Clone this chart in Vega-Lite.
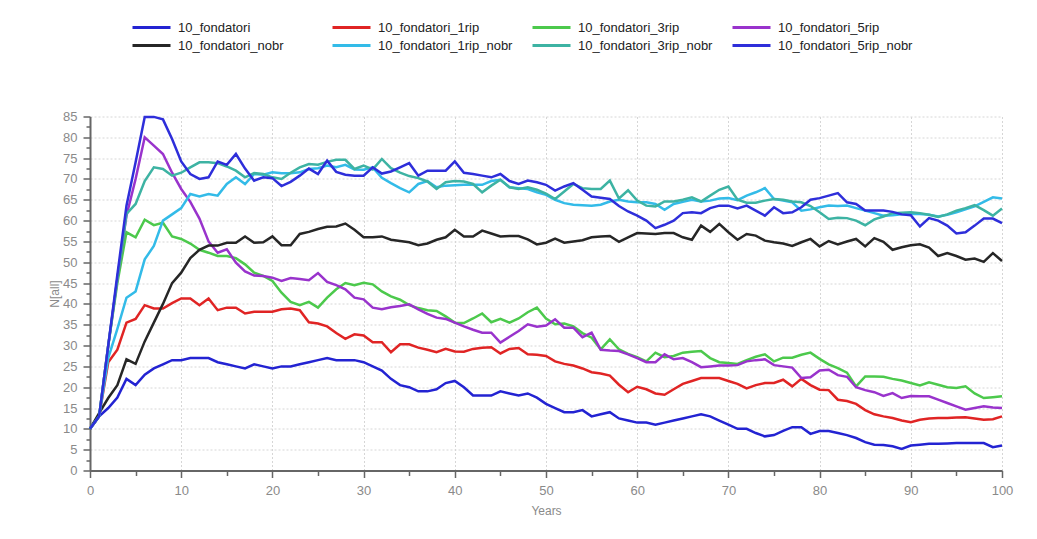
{
  "$schema": "https://vega.github.io/schema/vega-lite/v6.json",
  "width": 912,
  "height": 354,
  "autosize": {"type": "none"},
  "padding": {"left": 90, "top": 116.5, "right": 35, "bottom": 68.5},
  "background": "white",
  "datasets": {
    "f": [{"year":0,"n":10},{"year":1,"n":13},{"year":2,"n":15},{"year":3,"n":17.5},{"year":4,"n":22},{"year":5,"n":20.5},{"year":6,"n":23},{"year":7,"n":24.5},{"year":8,"n":25.5},{"year":9,"n":26.5},{"year":10,"n":26.5},{"year":11,"n":27},{"year":12,"n":27},{"year":13,"n":27},{"year":14,"n":26},{"year":15,"n":25.5},{"year":16,"n":25},{"year":17,"n":24.5},{"year":18,"n":25.5},{"year":19,"n":25},{"year":20,"n":24.5},{"year":21,"n":25},{"year":22,"n":25},{"year":23,"n":25.5},{"year":24,"n":26},{"year":25,"n":26.5},{"year":26,"n":27},{"year":27,"n":26.5},{"year":28,"n":26.5},{"year":29,"n":26.5},{"year":30,"n":26},{"year":31,"n":25},{"year":32,"n":24},{"year":33,"n":22},{"year":34,"n":20.5},{"year":35,"n":20},{"year":36,"n":19},{"year":37,"n":19},{"year":38,"n":19.5},{"year":39,"n":21},{"year":40,"n":21.5},{"year":41,"n":20},{"year":42,"n":18},{"year":43,"n":18},{"year":44,"n":18},{"year":45,"n":19},{"year":46,"n":18.5},{"year":47,"n":18},{"year":48,"n":18.5},{"year":49,"n":17.5},{"year":50,"n":16},{"year":51,"n":15},{"year":52,"n":14},{"year":53,"n":14},{"year":54,"n":14.5},{"year":55,"n":13},{"year":56,"n":13.5},{"year":57,"n":14},{"year":58,"n":12.5},{"year":59,"n":12},{"year":60,"n":11.5},{"year":61,"n":11.5},{"year":62,"n":11},{"year":63,"n":11.5},{"year":64,"n":12},{"year":65,"n":12.5},{"year":66,"n":13},{"year":67,"n":13.5},{"year":68,"n":13},{"year":69,"n":12},{"year":70,"n":11},{"year":71,"n":10},{"year":72,"n":10},{"year":73,"n":9},{"year":74,"n":8.2},{"year":75,"n":8.5},{"year":76,"n":9.5},{"year":77,"n":10.4},{"year":78,"n":10.4},{"year":79,"n":8.8},{"year":80,"n":9.5},{"year":81,"n":9.5},{"year":82,"n":9},{"year":83,"n":8.5},{"year":84,"n":7.8},{"year":85,"n":6.8},{"year":86,"n":6.2},{"year":87,"n":6.1},{"year":88,"n":5.8},{"year":89,"n":5.2},{"year":90,"n":6},{"year":91,"n":6.2},{"year":92,"n":6.4},{"year":93,"n":6.4},{"year":94,"n":6.5},{"year":95,"n":6.6},{"year":96,"n":6.6},{"year":97,"n":6.6},{"year":98,"n":6.6},{"year":99,"n":5.6},{"year":100,"n":6}],
    "r1": [{"year":0,"n":10},{"year":1,"n":13},{"year":2,"n":26},{"year":3,"n":29},{"year":4,"n":35.5},{"year":5,"n":36.4},{"year":6,"n":39.7},{"year":7,"n":38.9},{"year":8,"n":38.9},{"year":9,"n":40.2},{"year":10,"n":41.3},{"year":11,"n":41.3},{"year":12,"n":39.7},{"year":13,"n":41.3},{"year":14,"n":38.5},{"year":15,"n":39.1},{"year":16,"n":39.1},{"year":17,"n":37.7},{"year":18,"n":38.1},{"year":19,"n":38.1},{"year":20,"n":38.1},{"year":21,"n":38.7},{"year":22,"n":38.9},{"year":23,"n":38.5},{"year":24,"n":35.6},{"year":25,"n":35.3},{"year":26,"n":34.6},{"year":27,"n":33},{"year":28,"n":31.6},{"year":29,"n":32.7},{"year":30,"n":32.4},{"year":31,"n":30.8},{"year":32,"n":30.8},{"year":33,"n":28.4},{"year":34,"n":30.3},{"year":35,"n":30.3},{"year":36,"n":29.5},{"year":37,"n":29},{"year":38,"n":28.4},{"year":39,"n":29.2},{"year":40,"n":28.6},{"year":41,"n":28.5},{"year":42,"n":29.2},{"year":43,"n":29.5},{"year":44,"n":29.6},{"year":45,"n":28.1},{"year":46,"n":29.2},{"year":47,"n":29.4},{"year":48,"n":27.9},{"year":49,"n":27.8},{"year":50,"n":27.5},{"year":51,"n":26.2},{"year":52,"n":25.6},{"year":53,"n":25.2},{"year":54,"n":24.5},{"year":55,"n":23.6},{"year":56,"n":23.3},{"year":57,"n":22.8},{"year":58,"n":20.6},{"year":59,"n":18.8},{"year":60,"n":20.1},{"year":61,"n":19.5},{"year":62,"n":18.5},{"year":63,"n":18.2},{"year":64,"n":19.5},{"year":65,"n":20.8},{"year":66,"n":21.5},{"year":67,"n":22.2},{"year":68,"n":22.2},{"year":69,"n":22.2},{"year":70,"n":21.5},{"year":71,"n":20.8},{"year":72,"n":19.7},{"year":73,"n":20.5},{"year":74,"n":21},{"year":75,"n":21},{"year":76,"n":21.8},{"year":77,"n":20.2},{"year":78,"n":22},{"year":79,"n":20.5},{"year":80,"n":19.4},{"year":81,"n":19.3},{"year":82,"n":17},{"year":83,"n":16.7},{"year":84,"n":16},{"year":85,"n":14.5},{"year":86,"n":13.5},{"year":87,"n":13},{"year":88,"n":12.6},{"year":89,"n":12},{"year":90,"n":11.6},{"year":91,"n":12.2},{"year":92,"n":12.5},{"year":93,"n":12.6},{"year":94,"n":12.6},{"year":95,"n":12.7},{"year":96,"n":12.8},{"year":97,"n":12.5},{"year":98,"n":12.2},{"year":99,"n":12.3},{"year":100,"n":13}],
    "r3": [{"year":0,"n":10},{"year":1,"n":13},{"year":2,"n":30},{"year":3,"n":45},{"year":4,"n":57.2},{"year":5,"n":56},{"year":6,"n":60.2},{"year":7,"n":58.9},{"year":8,"n":59.5},{"year":9,"n":56.2},{"year":10,"n":55.6},{"year":11,"n":54.5},{"year":12,"n":53},{"year":13,"n":52.3},{"year":14,"n":51.5},{"year":15,"n":51.5},{"year":16,"n":51},{"year":17,"n":49.5},{"year":18,"n":47.5},{"year":19,"n":46.7},{"year":20,"n":45.5},{"year":21,"n":42.7},{"year":22,"n":40.5},{"year":23,"n":39.7},{"year":24,"n":40.5},{"year":25,"n":39.1},{"year":26,"n":41.5},{"year":27,"n":43.5},{"year":28,"n":45},{"year":29,"n":44.5},{"year":30,"n":45.1},{"year":31,"n":44.7},{"year":32,"n":43},{"year":33,"n":41.8},{"year":34,"n":41},{"year":35,"n":39.7},{"year":36,"n":39},{"year":37,"n":38.5},{"year":38,"n":38.3},{"year":39,"n":37},{"year":40,"n":35.5},{"year":41,"n":35.4},{"year":42,"n":36.5},{"year":43,"n":37.7},{"year":44,"n":35.6},{"year":45,"n":36.4},{"year":46,"n":35.5},{"year":47,"n":36.5},{"year":48,"n":38},{"year":49,"n":39.1},{"year":50,"n":36.5},{"year":51,"n":35.1},{"year":52,"n":35.3},{"year":53,"n":34.6},{"year":54,"n":33},{"year":55,"n":31.9},{"year":56,"n":29.1},{"year":57,"n":31.5},{"year":58,"n":29.1},{"year":59,"n":28},{"year":60,"n":27.2},{"year":61,"n":26.2},{"year":62,"n":28.3},{"year":63,"n":27.2},{"year":64,"n":27.5},{"year":65,"n":28.3},{"year":66,"n":28.5},{"year":67,"n":28.7},{"year":68,"n":27},{"year":69,"n":26},{"year":70,"n":25.8},{"year":71,"n":25.6},{"year":72,"n":26.5},{"year":73,"n":27.3},{"year":74,"n":27.9},{"year":75,"n":26.2},{"year":76,"n":27.1},{"year":77,"n":27.1},{"year":78,"n":27.8},{"year":79,"n":28.3},{"year":80,"n":26.8},{"year":81,"n":25.5},{"year":82,"n":24.6},{"year":83,"n":23.5},{"year":84,"n":20.2},{"year":85,"n":22.6},{"year":86,"n":22.6},{"year":87,"n":22.5},{"year":88,"n":22},{"year":89,"n":21.6},{"year":90,"n":21},{"year":91,"n":20.4},{"year":92,"n":21.2},{"year":93,"n":20.6},{"year":94,"n":20},{"year":95,"n":19.8},{"year":96,"n":20.2},{"year":97,"n":18.5},{"year":98,"n":17.4},{"year":99,"n":17.6},{"year":100,"n":17.8}],
    "r5": [{"year":0,"n":10},{"year":1,"n":13},{"year":2,"n":30},{"year":3,"n":46},{"year":4,"n":61.2},{"year":5,"n":70},{"year":6,"n":80},{"year":7,"n":78},{"year":8,"n":76},{"year":9,"n":71.5},{"year":10,"n":67.6},{"year":11,"n":64.5},{"year":12,"n":60.5},{"year":13,"n":55},{"year":14,"n":52.3},{"year":15,"n":53.1},{"year":16,"n":49.9},{"year":17,"n":47.8},{"year":18,"n":46.8},{"year":19,"n":46.7},{"year":20,"n":46.3},{"year":21,"n":45.5},{"year":22,"n":46.2},{"year":23,"n":46},{"year":24,"n":45.7},{"year":25,"n":47.4},{"year":26,"n":45.3},{"year":27,"n":44.5},{"year":28,"n":43.5},{"year":29,"n":41.5},{"year":30,"n":41.1},{"year":31,"n":39.1},{"year":32,"n":38.7},{"year":33,"n":39.2},{"year":34,"n":39.5},{"year":35,"n":39.9},{"year":36,"n":38.7},{"year":37,"n":37.6},{"year":38,"n":36.7},{"year":39,"n":36.4},{"year":40,"n":35.5},{"year":41,"n":34.6},{"year":42,"n":33.8},{"year":43,"n":33.1},{"year":44,"n":33.1},{"year":45,"n":30.7},{"year":46,"n":32.1},{"year":47,"n":33.5},{"year":48,"n":35.1},{"year":49,"n":34.5},{"year":50,"n":34.8},{"year":51,"n":36.3},{"year":52,"n":34.3},{"year":53,"n":34.3},{"year":54,"n":32},{"year":55,"n":33.1},{"year":56,"n":29},{"year":57,"n":28.8},{"year":58,"n":28.7},{"year":59,"n":27.9},{"year":60,"n":27},{"year":61,"n":26},{"year":62,"n":26},{"year":63,"n":27.9},{"year":64,"n":26.7},{"year":65,"n":27},{"year":66,"n":26},{"year":67,"n":24.8},{"year":68,"n":25},{"year":69,"n":25.2},{"year":70,"n":25.2},{"year":71,"n":25.3},{"year":72,"n":26.2},{"year":73,"n":26.5},{"year":74,"n":26.7},{"year":75,"n":25.3},{"year":76,"n":25},{"year":77,"n":24.7},{"year":78,"n":22.2},{"year":79,"n":22.4},{"year":80,"n":24},{"year":81,"n":24.2},{"year":82,"n":22.9},{"year":83,"n":22.5},{"year":84,"n":20},{"year":85,"n":19.3},{"year":86,"n":18.8},{"year":87,"n":17.9},{"year":88,"n":18.6},{"year":89,"n":17.4},{"year":90,"n":17.9},{"year":91,"n":17.8},{"year":92,"n":17.8},{"year":93,"n":17},{"year":94,"n":16.2},{"year":95,"n":15.4},{"year":96,"n":14.6},{"year":97,"n":15},{"year":98,"n":15.4},{"year":99,"n":15.1},{"year":100,"n":15}],
    "nb": [{"year":0,"n":10},{"year":1,"n":13.8},{"year":2,"n":17.4},{"year":3,"n":20.5},{"year":4,"n":26.7},{"year":5,"n":25.6},{"year":6,"n":31},{"year":7,"n":35.5},{"year":8,"n":40},{"year":9,"n":45},{"year":10,"n":47.5},{"year":11,"n":51},{"year":12,"n":53},{"year":13,"n":54},{"year":14,"n":54},{"year":15,"n":54.7},{"year":16,"n":54.7},{"year":17,"n":56.2},{"year":18,"n":54.7},{"year":19,"n":54.8},{"year":20,"n":56.2},{"year":21,"n":54.1},{"year":22,"n":54.1},{"year":23,"n":56.8},{"year":24,"n":57.3},{"year":25,"n":58},{"year":26,"n":58.5},{"year":27,"n":58.6},{"year":28,"n":59.3},{"year":29,"n":57.8},{"year":30,"n":56},{"year":31,"n":56},{"year":32,"n":56.2},{"year":33,"n":55.4},{"year":34,"n":55.1},{"year":35,"n":54.8},{"year":36,"n":54.1},{"year":37,"n":54.5},{"year":38,"n":55.4},{"year":39,"n":56},{"year":40,"n":57.8},{"year":41,"n":56.2},{"year":42,"n":56.2},{"year":43,"n":57.6},{"year":44,"n":56.9},{"year":45,"n":56.2},{"year":46,"n":56.3},{"year":47,"n":56.3},{"year":48,"n":55.5},{"year":49,"n":54.3},{"year":50,"n":54.7},{"year":51,"n":55.7},{"year":52,"n":54.7},{"year":53,"n":55},{"year":54,"n":55.3},{"year":55,"n":56},{"year":56,"n":56.2},{"year":57,"n":56.3},{"year":58,"n":54.9},{"year":59,"n":56},{"year":60,"n":57},{"year":61,"n":56.9},{"year":62,"n":56.8},{"year":63,"n":57},{"year":64,"n":57},{"year":65,"n":56},{"year":66,"n":55.4},{"year":67,"n":58.8},{"year":68,"n":57.3},{"year":69,"n":59.2},{"year":70,"n":57.2},{"year":71,"n":55.4},{"year":72,"n":56.8},{"year":73,"n":56.4},{"year":74,"n":55.2},{"year":75,"n":54.8},{"year":76,"n":54.5},{"year":77,"n":53.9},{"year":78,"n":54.8},{"year":79,"n":55.6},{"year":80,"n":53.8},{"year":81,"n":55.1},{"year":82,"n":54.3},{"year":83,"n":55},{"year":84,"n":55.6},{"year":85,"n":53.8},{"year":86,"n":55.8},{"year":87,"n":54.9},{"year":88,"n":53},{"year":89,"n":53.6},{"year":90,"n":54.1},{"year":91,"n":54.3},{"year":92,"n":53.5},{"year":93,"n":51.5},{"year":94,"n":52.2},{"year":95,"n":51.5},{"year":96,"n":50.6},{"year":97,"n":50.9},{"year":98,"n":50.1},{"year":99,"n":52.2},{"year":100,"n":50.3}],
    "r1nb": [{"year":0,"n":10},{"year":1,"n":13},{"year":2,"n":27},{"year":3,"n":34},{"year":4,"n":41.5},{"year":5,"n":43},{"year":6,"n":50.7},{"year":7,"n":53.9},{"year":8,"n":60},{"year":9,"n":61.5},{"year":10,"n":63},{"year":11,"n":66.4},{"year":12,"n":65.8},{"year":13,"n":66.4},{"year":14,"n":66},{"year":15,"n":68.8},{"year":16,"n":70.4},{"year":17,"n":68.8},{"year":18,"n":71.2},{"year":19,"n":71},{"year":20,"n":71.6},{"year":21,"n":71.4},{"year":22,"n":71.4},{"year":23,"n":71.6},{"year":24,"n":72.4},{"year":25,"n":72.6},{"year":26,"n":73.2},{"year":27,"n":72.8},{"year":28,"n":73.4},{"year":29,"n":72.3},{"year":30,"n":72.2},{"year":31,"n":72.8},{"year":32,"n":70.3},{"year":33,"n":69},{"year":34,"n":67.8},{"year":35,"n":66.8},{"year":36,"n":68.8},{"year":37,"n":69.5},{"year":38,"n":68},{"year":39,"n":68.4},{"year":40,"n":68.5},{"year":41,"n":68.6},{"year":42,"n":68.6},{"year":43,"n":68.6},{"year":44,"n":69.5},{"year":45,"n":69.8},{"year":46,"n":68},{"year":47,"n":67.8},{"year":48,"n":67.6},{"year":49,"n":66.8},{"year":50,"n":66.2},{"year":51,"n":65},{"year":52,"n":64.2},{"year":53,"n":63.8},{"year":54,"n":63.7},{"year":55,"n":63.6},{"year":56,"n":63.8},{"year":57,"n":64.6},{"year":58,"n":65},{"year":59,"n":64.6},{"year":60,"n":64.4},{"year":61,"n":64.4},{"year":62,"n":64},{"year":63,"n":62.6},{"year":64,"n":64},{"year":65,"n":64.5},{"year":66,"n":65},{"year":67,"n":64.6},{"year":68,"n":64.8},{"year":69,"n":65.3},{"year":70,"n":65.4},{"year":71,"n":64.9},{"year":72,"n":66},{"year":73,"n":66.8},{"year":74,"n":67.8},{"year":75,"n":65.2},{"year":76,"n":64.8},{"year":77,"n":64.4},{"year":78,"n":62.4},{"year":79,"n":62.7},{"year":80,"n":63.2},{"year":81,"n":63.6},{"year":82,"n":63.5},{"year":83,"n":63.6},{"year":84,"n":63},{"year":85,"n":62.4},{"year":86,"n":61.8},{"year":87,"n":61.2},{"year":88,"n":61.3},{"year":89,"n":61.5},{"year":90,"n":61.6},{"year":91,"n":61.6},{"year":92,"n":61.4},{"year":93,"n":61},{"year":94,"n":61.4},{"year":95,"n":62},{"year":96,"n":62.7},{"year":97,"n":63.4},{"year":98,"n":64.5},{"year":99,"n":65.6},{"year":100,"n":65.3}],
    "r3nb": [{"year":0,"n":10},{"year":1,"n":13},{"year":2,"n":30},{"year":3,"n":46},{"year":4,"n":61.6},{"year":5,"n":64},{"year":6,"n":69.5},{"year":7,"n":72.8},{"year":8,"n":72.4},{"year":9,"n":70.8},{"year":10,"n":71.5},{"year":11,"n":72.8},{"year":12,"n":74},{"year":13,"n":74},{"year":14,"n":73.8},{"year":15,"n":73},{"year":16,"n":72},{"year":17,"n":70.4},{"year":18,"n":71.4},{"year":19,"n":71.2},{"year":20,"n":70.4},{"year":21,"n":70},{"year":22,"n":71.5},{"year":23,"n":72.8},{"year":24,"n":73.6},{"year":25,"n":73.4},{"year":26,"n":74.1},{"year":27,"n":74.6},{"year":28,"n":74.6},{"year":29,"n":72.4},{"year":30,"n":73.2},{"year":31,"n":72.3},{"year":32,"n":74.8},{"year":33,"n":72.6},{"year":34,"n":71.5},{"year":35,"n":70.7},{"year":36,"n":70.2},{"year":37,"n":69.4},{"year":38,"n":67.6},{"year":39,"n":69.2},{"year":40,"n":69.5},{"year":41,"n":69.4},{"year":42,"n":68.8},{"year":43,"n":66.8},{"year":44,"n":68.4},{"year":45,"n":69.8},{"year":46,"n":68},{"year":47,"n":67.6},{"year":48,"n":68},{"year":49,"n":67.4},{"year":50,"n":66.5},{"year":51,"n":65.2},{"year":52,"n":67},{"year":53,"n":68.8},{"year":54,"n":67.8},{"year":55,"n":67.6},{"year":56,"n":67.6},{"year":57,"n":69.6},{"year":58,"n":65.3},{"year":59,"n":67.3},{"year":60,"n":64.8},{"year":61,"n":63.6},{"year":62,"n":63.4},{"year":63,"n":64.6},{"year":64,"n":64.6},{"year":65,"n":65},{"year":66,"n":65.6},{"year":67,"n":64.6},{"year":68,"n":66},{"year":69,"n":67.4},{"year":70,"n":68.2},{"year":71,"n":65},{"year":72,"n":64.3},{"year":73,"n":64.3},{"year":74,"n":64.8},{"year":75,"n":65.2},{"year":76,"n":65},{"year":77,"n":64.6},{"year":78,"n":64.4},{"year":79,"n":63.5},{"year":80,"n":62},{"year":81,"n":60.4},{"year":82,"n":60.7},{"year":83,"n":60.6},{"year":84,"n":60},{"year":85,"n":58.9},{"year":86,"n":60.3},{"year":87,"n":61},{"year":88,"n":61.8},{"year":89,"n":61.9},{"year":90,"n":62},{"year":91,"n":61.8},{"year":92,"n":61.4},{"year":93,"n":60.9},{"year":94,"n":61.5},{"year":95,"n":62.4},{"year":96,"n":63},{"year":97,"n":63.7},{"year":98,"n":62.5},{"year":99,"n":61.2},{"year":100,"n":62.9}],
    "r5nb": [{"year":0,"n":10},{"year":1,"n":13},{"year":2,"n":30},{"year":3,"n":47},{"year":4,"n":63.6},{"year":5,"n":74},{"year":6,"n":84.9},{"year":7,"n":84.9},{"year":8,"n":84.3},{"year":9,"n":79.6},{"year":10,"n":74.2},{"year":11,"n":71.2},{"year":12,"n":70},{"year":13,"n":70.4},{"year":14,"n":74.2},{"year":15,"n":73.4},{"year":16,"n":76},{"year":17,"n":72.5},{"year":18,"n":69.6},{"year":19,"n":70.4},{"year":20,"n":70.2},{"year":21,"n":68.3},{"year":22,"n":69.3},{"year":23,"n":70.8},{"year":24,"n":72.5},{"year":25,"n":71.2},{"year":26,"n":74.4},{"year":27,"n":71.7},{"year":28,"n":71},{"year":29,"n":70.8},{"year":30,"n":70.8},{"year":31,"n":72.8},{"year":32,"n":71.3},{"year":33,"n":71.8},{"year":34,"n":72.8},{"year":35,"n":73.8},{"year":36,"n":70.8},{"year":37,"n":72},{"year":38,"n":72},{"year":39,"n":72},{"year":40,"n":74.2},{"year":41,"n":71.5},{"year":42,"n":71.2},{"year":43,"n":70.8},{"year":44,"n":70.4},{"year":45,"n":71.2},{"year":46,"n":69.5},{"year":47,"n":68.8},{"year":48,"n":69.6},{"year":49,"n":69.2},{"year":50,"n":68.6},{"year":51,"n":67.2},{"year":52,"n":68.2},{"year":53,"n":69},{"year":54,"n":67.4},{"year":55,"n":65.8},{"year":56,"n":65.5},{"year":57,"n":65.2},{"year":58,"n":63.5},{"year":59,"n":62.2},{"year":60,"n":61.2},{"year":61,"n":60},{"year":62,"n":58.2},{"year":63,"n":59},{"year":64,"n":60},{"year":65,"n":61.8},{"year":66,"n":62},{"year":67,"n":61.8},{"year":68,"n":63},{"year":69,"n":63.6},{"year":70,"n":63.6},{"year":71,"n":62.9},{"year":72,"n":63.6},{"year":73,"n":62.4},{"year":74,"n":61.2},{"year":75,"n":63.2},{"year":76,"n":61.8},{"year":77,"n":62},{"year":78,"n":63.2},{"year":79,"n":65},{"year":80,"n":65.4},{"year":81,"n":66},{"year":82,"n":66.6},{"year":83,"n":64.4},{"year":84,"n":64},{"year":85,"n":62.4},{"year":86,"n":62.4},{"year":87,"n":62.4},{"year":88,"n":62.1},{"year":89,"n":61.5},{"year":90,"n":61.3},{"year":91,"n":58.6},{"year":92,"n":60.6},{"year":93,"n":60},{"year":94,"n":58.8},{"year":95,"n":56.9},{"year":96,"n":57.2},{"year":97,"n":58.8},{"year":98,"n":60.5},{"year":99,"n":60.5},{"year":100,"n":59.4}]
  },
  "encoding": {
    "x": {
      "field": "year", "type": "quantitative",
      "scale": {"domain": [0, 100], "nice": false, "zero": false},
      "axis": {
        "title": "Years",
        "values": [0,5,10,15,20,25,30,35,40,45,50,55,60,65,70,75,80,85,90,95,100],
        "labelExpr": "datum.value % 10 === 0 ? datum.label : ''",
        "gridOpacity": {"condition": {"test": "datum.value % 10 === 0 && datum.value > 0", "value": 1}, "value": 0},
        "tickSize": {"condition": {"test": "datum.value % 10 === 0", "value": 7}, "value": 5},
        "labelPadding": 7,
        "titlePadding": 8
      }
    },
    "y": {
      "field": "n", "type": "quantitative",
      "scale": {"domain": [0, 85], "nice": false},
      "axis": {
        "title": "N[all]",
        "values": [0,2.5,5,7.5,10,12.5,15,17.5,20,22.5,25,27.5,30,32.5,35,37.5,40,42.5,45,47.5,50,52.5,55,57.5,60,62.5,65,67.5,70,72.5,75,77.5,80,82.5,85],
        "labelExpr": "datum.value % 5 === 0 ? datum.label : ''",
        "gridOpacity": {"condition": {"test": "datum.value % 5 === 0 && datum.value > 0", "value": 1}, "value": 0},
        "tickSize": {"condition": {"test": "datum.value % 5 === 0", "value": 7}, "value": 4},
        "labelPadding": 6,
        "titlePadding": 1
      }
    }
  },
  "layer": [
    {"data": {"name": "f"}, "mark": {"type": "line", "strokeWidth": 2.5}, "encoding": {"color": {"datum": "10_fondatori", "type": "nominal"}}},
    {"data": {"name": "r1"}, "mark": {"type": "line", "strokeWidth": 2.5}, "encoding": {"color": {"datum": "10_fondatori_1rip", "type": "nominal"}}},
    {"data": {"name": "r3"}, "mark": {"type": "line", "strokeWidth": 2.5}, "encoding": {"color": {"datum": "10_fondatori_3rip", "type": "nominal"}}},
    {"data": {"name": "r5"}, "mark": {"type": "line", "strokeWidth": 2.5}, "encoding": {"color": {"datum": "10_fondatori_5rip", "type": "nominal"}}},
    {"data": {"name": "nb"}, "mark": {"type": "line", "strokeWidth": 2.5}, "encoding": {"color": {"datum": "10_fondatori_nobr", "type": "nominal"}}},
    {"data": {"name": "r1nb"}, "mark": {"type": "line", "strokeWidth": 2.5}, "encoding": {"color": {"datum": "10_fondatori_1rip_nobr", "type": "nominal"}}},
    {"data": {"name": "r3nb"}, "mark": {"type": "line", "strokeWidth": 2.5}, "encoding": {"color": {"datum": "10_fondatori_3rip_nobr", "type": "nominal"}}},
    {"data": {"name": "r5nb"}, "mark": {"type": "line", "strokeWidth": 2.5}, "encoding": {"color": {"datum": "10_fondatori_5rip_nobr", "type": "nominal"}}}
  ],
  "resolve": {"scale": {"color": "shared"}},
  "config": {
    "font": "Liberation Sans",
    "view": {"stroke": null},
    "range": {"category": ["#2323D2", "#E02424", "#4CC94C", "#9933CC", "#262626", "#33BBE8", "#3DB3A3", "#2E2EDA"]},
    "axis": {
      "domainColor": "#666666", "domainWidth": 2,
      "tickColor": "#666666", "tickWidth": 1.5,
      "gridColor": "#d6d6d6", "gridDash": [2, 2], "gridWidth": 1,
      "labelColor": "#8a8a8a", "labelFontSize": 13, "labelFlush": false, "labelOverlap": false,
      "titleColor": "#8a8a8a", "titleFontSize": 12, "titleFontWeight": "normal"
    },
    "legend": {
      "orient": "none", "legendX": 41, "legendY": -100,
      "direction": "horizontal", "columns": 4, "gridAlign": "all",
      "symbolType": "M-1,0H3", "symbolSize": 361, "symbolStrokeWidth": 3,
      "labelFontSize": 13, "labelColor": "#222222", "labelOffset": 25,
      "columnPadding": 13, "rowPadding": 0, "title": null, "labelLimit": 300
    }
  }
}
